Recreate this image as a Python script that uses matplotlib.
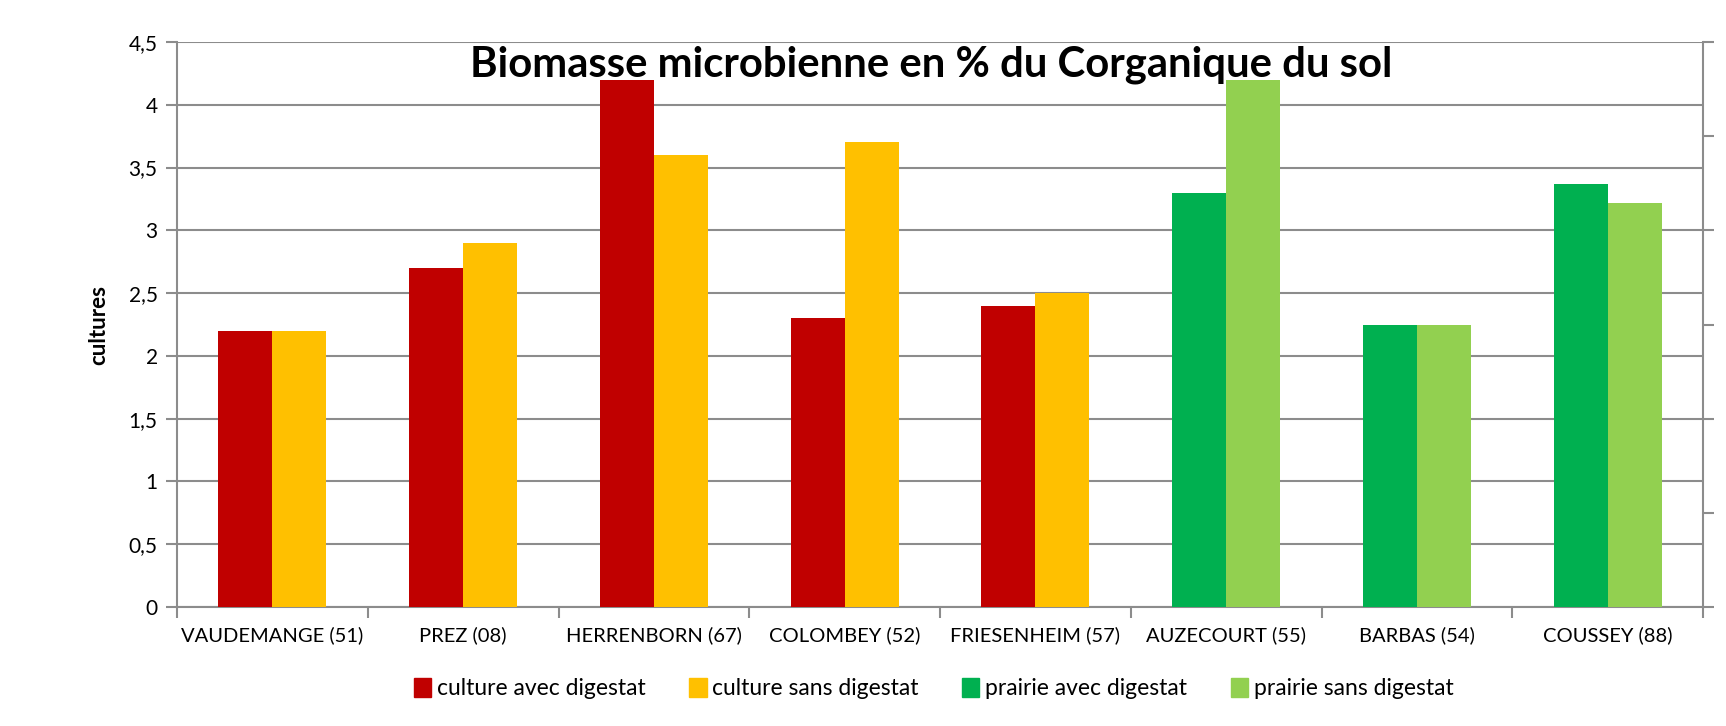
import numpy as np
import matplotlib.pyplot as plt
from matplotlib.patches import Patch

sites = ['VAUDEMANGE (51)', 'PREZ (08)', 'HERRENBORN (67)', 'COLOMBEY (52)',
         'FRIESENHEIM (57)', 'AUZECOURT (55)', 'BARBAS (54)', 'COUSSEY (88)']
usage = ['culture'] * 5 + ['prairie'] * 3
avec_digestat = [2.2, 2.7, 4.2, 2.3, 2.4, 3.3, 2.25, 3.37]
sans_digestat = [2.2, 2.9, 3.6, 3.7, 2.5, 4.2, 2.25, 3.22]
yticks = [0, 0.5, 1, 1.5, 2, 2.5, 3, 3.5, 4, 4.5]

colors = {'culture': ('#C00000', '#FFC000'), 'prairie': ('#00B050', '#92D050')}
grid_c = '#8c8c8c'

plt.rcParams['font.family'] = ['Lato', 'DejaVu Sans']

fig = plt.figure(figsize=(17.26, 7.26), dpi=100)
ax = fig.add_axes([0.1026, 0.1639, 0.8841, 0.7782])

x = np.arange(len(sites))
w = 0.283
for kind in ['culture', 'prairie']:
    idx = [i for i, u in enumerate(usage) if u == kind]
    c1, c2 = colors[kind]
    ax.bar(x[idx] - w / 2, [avec_digestat[i] for i in idx], w, color=c1, zorder=3)
    ax.bar(x[idx] + w / 2, [sans_digestat[i] for i in idx], w, color=c2, zorder=3)

ax.set_xlim(-0.5, len(sites) - 0.5)
ax.set_ylim(0, 4.5)
ax.set_yticks(yticks)
ax.set_yticklabels([('%g' % v).replace('.', ',') for v in yticks], fontsize=15)
ax.yaxis.grid(True, color=grid_c, lw=1.5, zorder=0)
ax.tick_params(axis='y', length=8, width=1.5, color=grid_c, pad=6)

ax.set_xticks(x)
ax.set_xticklabels(sites, fontsize=14.5)
ax.set_xticks(np.arange(-0.5, len(sites)), minor=True)
ax.tick_params(axis='x', which='major', length=0, pad=14)
ax.tick_params(axis='x', which='minor', length=8, width=1.5, color=grid_c)

for s in ['left', 'bottom', 'right']:
    ax.spines[s].set_color(grid_c)
    ax.spines[s].set_linewidth(1.5)
ax.spines['top'].set_visible(False)

ax.set_ylabel('cultures', fontsize=16, fontweight='bold', labelpad=14)

# secondary axis on the right, ticks without labels
ax2 = ax.twinx()
ax2.set_ylim(0, 6)
ax2.set_yticks(range(7))
ax2.set_yticklabels([])
ax2.tick_params(axis='y', length=8, width=1.5, color=grid_c)
for s in ax2.spines.values():
    s.set_visible(False)

ax.text(0.494, 0.96, 'Biomasse microbienne en % du Corganique du sol',
        transform=ax.transAxes, ha='center', va='center',
        fontsize=30.2, fontweight='bold')

handles = [Patch(color=colors['culture'][0], label='culture avec digestat'),
           Patch(color=colors['culture'][1], label='culture sans digestat'),
           Patch(color=colors['prairie'][0], label='prairie avec digestat'),
           Patch(color=colors['prairie'][1], label='prairie sans digestat')]
fig.legend(handles=handles, loc='center', bbox_to_anchor=(0.541, 0.052),
           ncols=4, frameon=False, fontsize=16.5, handlelength=0.75,
           handleheight=0.9, handletextpad=0.25, columnspacing=1.9)

plt.savefig('out.png')
